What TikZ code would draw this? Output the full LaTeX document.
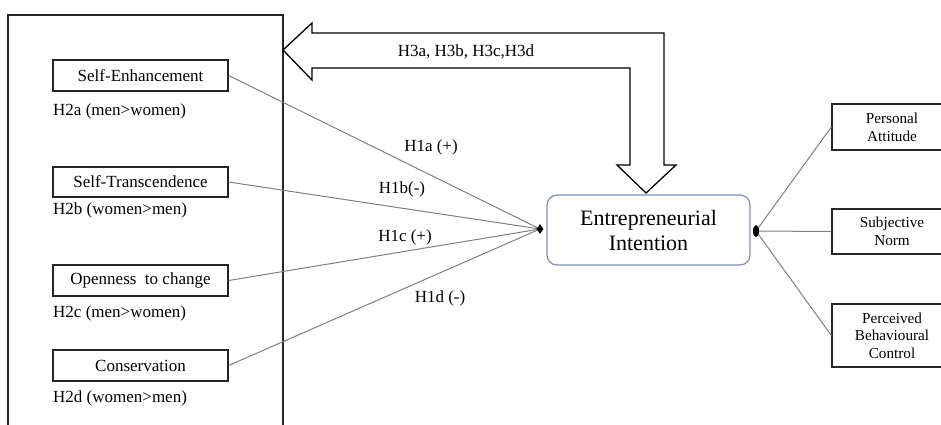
\documentclass[tikz,border=0pt]{standalone}
\usepackage{fontspec}
\setmainfont{Liberation Serif}
\usetikzlibrary{shapes.geometric}
\begin{document}
\begin{tikzpicture}[x=1pt,y=-1pt,
  lbox/.style={draw=black!85,line width=1.3pt,minimum width=175pt,inner sep=0pt,font=\fontsize{17}{19}\selectfont},
  rbox/.style={draw=black!85,line width=1.3pt,minimum width=120pt,inner sep=0pt,align=center,font=\fontsize{15.2}{17.7}\selectfont},
  hlab/.style={font=\fontsize{17}{19}\selectfont,inner sep=0pt},
  conn/.style={draw=black!50,line width=1pt},
  bigarrow/.style={draw=black,line width=1.3pt,fill=white,line join=miter}]
\useasboundingbox (0,0) rectangle (941,424);
\clip (0,0) rectangle (941,424);
\fill[white] (0,0) rectangle (941,424);
% outer box
\draw[black!85,line width=1.3pt] (8,15) rectangle (283,440);
% left boxes
\node[lbox,minimum height=31pt] (se) at (140.5,75.5) {Self-Enhancement};
\node[lbox,minimum height=30pt] (st) at (140.5,182) {Self-Transcendence};
\node[lbox,minimum height=31pt] (oc) at (140.5,280.5) {Openness\ \ to change};
\node[lbox,minimum height=31pt] (co) at (140.5,365.5) {Conservation};
\node[hlab,anchor=west] (h2a) at (53,111) {H2a\ (men>women)};
\node[hlab,anchor=west] (h2b) at (53,210) {H2b\ (women>men)};
\node[hlab,anchor=west] (h2c) at (53,313) {H2c\ (men>women)};
\node[hlab,anchor=west] (h2d) at (53,398) {H2d\ (women>men)};
% central box
\node[draw={rgb,255:red,125;green,148;blue,180},line width=1.2pt,rounded corners=10pt,
  minimum width=203pt,minimum height=70pt,align=center,
  font=\fontsize{22}{25}\selectfont] (ei) at (648.5,230) {Entrepreneurial\\Intention};
% right boxes
\node[rbox,minimum height=46pt] (pa) at (892,127) {Personal\\Attitude};
\node[rbox,minimum height=45pt] (sn) at (892,231.5) {Subjective\\Norm};
\node[rbox,minimum height=63pt] (pbc) at (892,335.5) {Perceived\\Behavioural\\Control};
% convergence points
\coordinate (L) at (540,229);
\coordinate (R) at (756,231);
\draw[conn] (se.east) -- (L);
\draw[conn] (st.east) -- (L);
\draw[conn] (oc.east) -- (L);
\draw[conn] (co.east) -- (L);
\node[diamond,fill=black,inner sep=0pt,minimum width=7pt,minimum height=10pt] (ld) at (L) {};
\draw[conn] (R) -- (pa.west);
\draw[conn] (R) -- (sn.west);
\draw[conn] (R) -- (pbc.west);
\node[ellipse,fill=black,inner sep=0pt,minimum width=6pt,minimum height=12pt] (rd) at (R) {};
% labels on connectors
\node[hlab] (h1a) at (431,147) {H1a\ (+)};
\node[hlab] (h1b) at (402,189) {H1b(-)};
\node[hlab] (h1c) at (405,237) {H1c\ (+)};
\node[hlab] (h1d) at (440,298) {H1d\ (-)};
% big arrow
\draw[bigarrow] (283,50) -- (312,23) -- (312,33) -- (664,33) -- (664,165) -- (676,165)
  -- (646,193) -- (617,165) -- (630,165) -- (630,68) -- (312,68) -- (312,80) -- cycle;
\node[hlab] (h3) at (466,52) {H3a, H3b, H3c,H3d};
\end{tikzpicture}
\end{document}
